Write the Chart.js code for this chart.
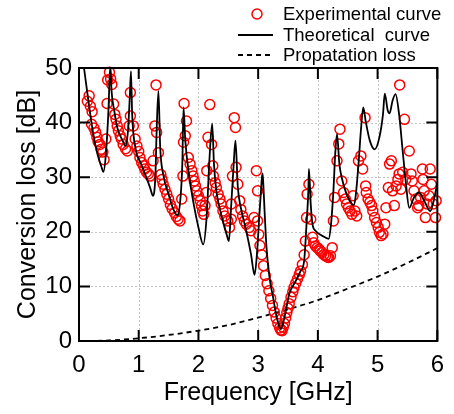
<!DOCTYPE html>
<html>
<head>
<meta charset="utf-8">
<script src="https://cdn.jsdelivr.net/npm/chart.js@4.4.1/dist/chart.umd.min.js"></script>
<style>
  body { margin: 0; background: #fff; }
  #grafico { display: block; }
</style>
</head>
<body>
<canvas id="grafico" width="454" height="414"></canvas>
<script>
// Pontos experimentais (frequência em GHz, perda em dB)
const expFreq = [
    0.14, 0.17, 0.19, 0.21, 0.22, 0.25, 0.28, 0.30, 0.32, 0.35,
    0.37, 0.40, 0.42, 0.45, 0.47, 0.48, 0.51, 0.53, 0.55, 0.58,
    0.60, 0.62, 0.64, 0.66, 0.69, 0.71, 0.74, 0.78, 0.81, 0.84,
    0.86, 0.86, 0.91, 0.94, 0.97, 1.00, 1.02, 1.05, 1.08, 1.10,
    1.13, 1.16, 1.19, 1.24, 1.27, 1.29, 1.30, 1.33, 1.37, 1.39,
    1.41, 1.44, 1.47, 1.50, 1.53, 1.56, 1.60, 1.63, 1.66, 1.69,
    1.72, 1.74, 1.75, 1.76, 1.78, 1.80, 1.83, 1.86, 1.89, 1.91,
    1.93, 1.95, 1.97, 2.00, 2.03, 2.05, 2.07, 2.09, 2.11, 2.13,
    2.14, 2.16, 2.19, 2.22, 2.24, 2.25, 2.28, 2.30, 2.33, 2.36,
    2.38, 2.41, 2.44, 2.49, 2.52, 2.55, 2.55, 2.57, 2.60, 2.62,
    2.63, 2.66, 2.69, 2.71, 2.74, 2.77, 2.80, 2.85, 2.88, 2.93,
    2.97, 2.99, 2.99, 3.01, 3.03, 3.06, 3.09, 3.12, 3.15, 3.18,
    3.21, 3.24, 3.27, 3.30, 3.33, 3.36, 3.38, 3.40, 3.42, 3.44,
    3.46, 3.48, 3.50, 3.52, 3.55, 3.58, 3.60, 3.63, 3.66, 3.69,
    3.71, 3.74, 3.77, 3.79, 3.81, 3.82, 3.85, 3.88, 3.91, 3.93,
    3.96, 3.99, 4.02, 4.04, 4.07, 4.10, 4.13, 4.16, 4.18, 4.21,
    4.24, 4.26, 4.28, 4.32, 4.35, 4.37, 4.40, 4.43, 4.46, 4.48,
    4.51, 4.54, 4.57, 4.59, 4.62, 4.65, 4.68, 4.72, 4.75, 4.79,
    4.80, 4.81, 4.84, 4.87, 4.90, 4.92, 4.95, 4.98, 5.01, 5.03,
    5.06, 5.09, 5.12, 5.14, 5.18, 5.20, 5.23, 5.25, 5.28, 5.31,
    5.34, 5.36, 5.37, 5.39, 5.42, 5.45, 5.47, 5.53, 5.56, 5.58,
    5.61, 5.64, 5.67, 5.69, 5.72, 5.75, 5.76, 5.78, 5.80, 5.83,
    5.86, 5.88, 5.90, 5.93, 5.97, 5.98
];
const expLoss = [
    43.9, 44.9, 43.0, 39.7, 42.0, 39.0, 38.2, 37.3, 36.5, 36.0,
    35.1, 34.6, 33.2, 37.0, 43.5, 47.8, 49.2, 48.0, 47.0, 43.4,
    41.5, 40.6, 39.4, 38.5, 37.6, 37.0, 36.0, 35.2, 34.8, 39.4,
    41.2, 45.5, 39.4, 37.0, 35.7, 34.7, 33.6, 32.7, 32.1, 31.5,
    30.9, 30.6, 30.2, 33.0, 39.4, 46.9, 38.2, 34.5, 30.5, 29.6,
    28.7, 27.8, 26.9, 26.0, 25.0, 24.2, 23.5, 22.8, 22.3, 22.0,
    26.0, 30.2, 36.4, 43.5, 37.6, 40.3, 33.6, 32.4, 31.2, 30.2,
    29.3, 28.4, 27.5, 26.6, 25.7, 24.8, 23.8, 23.2, 24.8, 27.2,
    31.2, 37.3, 43.3, 36.0, 32.1, 30.2, 29.0, 28.1, 26.9, 26.0,
    25.1, 23.8, 22.9, 22.0, 20.8, 22.3, 25.1, 30.2, 40.9, 39.1,
    31.8, 28.7, 25.7, 24.1, 22.9, 22.0, 21.4, 20.8, 20.2, 22.6,
    31.2, 27.5, 22.0, 19.5, 17.5, 15.8, 13.8, 12.0, 10.5, 9.2,
    7.8, 6.5, 5.3, 4.2, 3.2, 2.4, 2.0, 1.9, 2.5, 3.2,
    4.2, 5.2, 6.0, 6.8, 8.0, 9.0, 9.8, 10.6, 11.4, 12.2,
    12.8, 14.0, 15.8, 18.3, 22.6, 26.9, 28.7, 22.3, 19.0, 18.0,
    17.4, 17.1, 16.8, 16.5, 16.2, 15.8, 15.6, 15.4, 15.3, 15.6,
    17.1, 22.0, 26.3, 33.0, 36.1, 38.8, 29.3, 27.2, 26.0, 25.1,
    24.4, 23.8, 23.2, 26.6, 23.8, 22.9, 33.0, 33.9, 31.5, 40.9,
    28.4, 27.2, 26.0, 25.4, 24.8, 23.8, 22.6, 21.7, 20.8, 19.9,
    19.3, 19.6, 21.4, 24.4, 28.1, 32.4, 33.0, 27.5, 24.8, 28.4,
    29.6, 30.6, 46.9, 27.8, 30.9, 40.6, 29.6, 34.8, 30.6, 29.3,
    27.5, 26.0, 24.4, 24.8, 26.3, 31.5, 29.6, 27.5, 22.6, 25.1,
    26.6, 31.5, 28.7, 25.1, 22.6, 25.7
];

// Curva teórica
const theoryFreq = [
    0.07, 0.09, 0.15, 0.23, 0.31, 0.37, 0.41, 0.45, 0.49, 0.525,
    0.545, 0.59, 0.64, 0.73, 0.78, 0.82, 0.85, 0.87, 0.89, 0.95,
    1.03, 1.11, 1.19, 1.24, 1.28, 1.30, 1.33, 1.36, 1.41, 1.50,
    1.57, 1.65, 1.70, 1.73, 1.75, 1.78, 1.84, 1.92, 2.00, 2.08,
    2.14, 2.18, 2.23, 2.26, 2.30, 2.38, 2.47, 2.51, 2.55, 2.59,
    2.62, 2.66, 2.71, 2.80, 2.88, 2.94, 2.98, 3.02, 3.05, 3.07,
    3.08, 3.11, 3.14, 3.19, 3.25, 3.30, 3.36, 3.38, 3.44, 3.52,
    3.63, 3.71, 3.77, 3.81, 3.84, 3.85, 3.88, 3.91, 3.96, 4.07,
    4.18, 4.22, 4.26, 4.29, 4.32, 4.36, 4.40, 4.48, 4.57, 4.60,
    4.63, 4.68, 4.72, 4.76, 4.80, 4.87, 4.95, 5.03, 5.09, 5.12,
    5.17, 5.20, 5.25, 5.30, 5.36, 5.42, 5.47, 5.53, 5.61, 5.69,
    5.78, 5.88, 5.94, 6.00
];
const theoryLoss = [
    51.0, 49.5, 44.6, 38.5, 34.2, 32.1, 31.0, 34.2, 41.5, 50.5,
    45.8, 42.2, 39.1, 36.7, 35.7, 38.5, 44.6, 49.4, 41.5, 35.1,
    32.7, 30.5, 28.1, 26.6, 30.5, 38.5, 45.8, 35.4, 30.5, 26.9,
    24.4, 23.0, 26.3, 32.4, 42.8, 36.7, 30.6, 25.1, 20.8, 17.7,
    23.2, 32.4, 39.8, 32.4, 27.5, 23.2, 19.6, 18.3, 25.1, 32.4,
    36.7, 28.1, 24.4, 20.2, 15.9, 12.1, 16.0, 23.0, 28.0, 30.7,
    29.9, 23.2, 17.1, 11.6, 8.0, 4.9, 2.5, 2.2, 4.3, 8.6,
    11.0, 12.8, 14.7, 21.4, 27.5, 31.5, 25.1, 21.4, 20.2, 19.3,
    18.7, 21.4, 27.5, 34.2, 37.9, 32.4, 29.9, 26.9, 25.1, 24.9,
    26.3, 32.4, 38.5, 42.8, 40.3, 36.7, 35.1, 37.3, 41.5, 45.3,
    42.2, 41.7, 44.0, 45.2, 41.5, 34.8, 29.3, 24.4, 26.3, 27.2,
    25.7, 23.8, 25.7, 29.0
];

// Perda de propagação
const propFreq = [0, 0.5, 1, 1.5, 2, 2.5, 3, 3.5, 4, 4.5, 5, 5.5, 6];
const propLoss = [0, 0.1, 0.5, 1.1, 1.9, 2.9, 4.3, 5.8, 7.5, 9.6, 11.8, 14.3, 17.0];

const xTicks = [0, 1, 2, 3, 4, 5, 6];
const yTicks = [0, 10, 20, 30, 40, 50];

const fonte = '"Liberation Sans", Arial, sans-serif';

function juntar(xs, ys) {
    return xs.map((x, i) => ({ x: x, y: ys[i] }));
}

// grade tracejada desenhada antes dos dados
const gradePlugin = {
    id: 'grade',
    beforeDatasetsDraw(chart) {
        const { ctx, chartArea, scales } = chart;
        ctx.save();
        ctx.strokeStyle = '#c4c4c4';
        ctx.lineWidth = 1;
        ctx.setLineDash([2, 2]);
        xTicks.forEach(v => {
            const px = Math.round(scales.x.getPixelForValue(v)) + 0.5;
            ctx.beginPath();
            ctx.moveTo(px, chartArea.top);
            ctx.lineTo(px, chartArea.bottom);
            ctx.stroke();
        });
        yTicks.forEach(v => {
            const py = Math.round(scales.y.getPixelForValue(v)) + 0.5;
            ctx.beginPath();
            ctx.moveTo(chartArea.left, py);
            ctx.lineTo(chartArea.right, py);
            ctx.stroke();
        });
        ctx.restore();
    }
};

// moldura com marcas para dentro + legenda manual
const molduraPlugin = {
    id: 'moldura',
    afterDraw(chart) {
        const { ctx, chartArea, scales } = chart;
        const { left, right, top, bottom } = chartArea;
        const tam = 11;
        ctx.save();
        ctx.strokeStyle = '#000';
        ctx.lineWidth = 2;
        ctx.setLineDash([]);
        ctx.strokeRect(left, top, right - left, bottom - top);
        ctx.beginPath();
        xTicks.forEach(v => {
            const px = scales.x.getPixelForValue(v);
            ctx.moveTo(px, bottom);
            ctx.lineTo(px, bottom - tam);
            ctx.moveTo(px, top);
            ctx.lineTo(px, top + tam);
        });
        yTicks.forEach(v => {
            const py = scales.y.getPixelForValue(v);
            ctx.moveTo(left, py);
            ctx.lineTo(left + tam, py);
            ctx.moveTo(right, py);
            ctx.lineTo(right - tam, py);
        });
        ctx.stroke();

        // legenda
        ctx.font = '18.5px ' + fonte;
        ctx.fillStyle = '#000';
        ctx.textBaseline = 'middle';
        ctx.textAlign = 'left';

        ctx.strokeStyle = '#ff0000';
        ctx.lineWidth = 1.5;
        ctx.beginPath();
        ctx.arc(257, 14, 5, 0, Math.PI * 2);
        ctx.stroke();
        ctx.fillText('Experimental curve', 283, 15);

        ctx.strokeStyle = '#000';
        ctx.lineWidth = 1.8;
        ctx.beginPath();
        ctx.moveTo(238, 35);
        ctx.lineTo(273, 35);
        ctx.stroke();
        ctx.fillText('Theoretical  curve', 283, 36);

        ctx.setLineDash([5, 4]);
        ctx.beginPath();
        ctx.moveTo(238, 55);
        ctx.lineTo(274, 55);
        ctx.stroke();
        ctx.fillText('Propatation loss', 283, 56);
        ctx.restore();
    }
};

new Chart(document.getElementById('grafico'), {
    type: 'scatter',
    data: {
        datasets: [
            {
                label: 'Theoretical  curve',
                data: juntar(theoryFreq, theoryLoss),
                showLine: true,
                borderColor: '#000',
                borderWidth: 1.8,
                pointRadius: 0,
                cubicInterpolationMode: 'monotone',
                clip: 0,
                order: 1
            },
            {
                label: 'Experimental curve',
                data: juntar(expFreq, expLoss),
                showLine: false,
                pointStyle: 'circle',
                pointRadius: 5,
                pointBorderWidth: 1.5,
                borderColor: '#ff0000',
                backgroundColor: 'rgba(0,0,0,0)',
                clip: 8,
                order: 2
            },
            {
                label: 'Propatation loss',
                data: juntar(propFreq, propLoss),
                showLine: true,
                borderColor: '#000',
                borderWidth: 1.8,
                borderDash: [5, 4],
                pointRadius: 0,
                cubicInterpolationMode: 'monotone',
                clip: 0,
                order: 3
            }
        ]
    },
    options: {
        responsive: false,
        animation: false,
        events: [],
        layout: { padding: { top: 68, right: 11, left: 0, bottom: 0 } },
        plugins: {
            legend: { display: false },
            tooltip: { enabled: false }
        },
        scales: {
            x: {
                type: 'linear',
                min: 0,
                max: 6,
                grid: { display: false, drawTicks: false },
                border: { display: false },
                ticks: {
                    stepSize: 1,
                    color: '#000',
                    padding: 10,
                    maxRotation: 0,
                    font: { family: fonte, size: 24 }
                },
                title: {
                    display: true,
                    text: 'Frequency [GHz]',
                    color: '#000',
                    font: { family: fonte, size: 25 },
                    padding: { top: 0, bottom: 6 }
                },
                afterFit(scale) { scale.height = 73; }
            },
            y: {
                min: 0,
                max: 50,
                grid: { display: false, drawTicks: false },
                border: { display: false },
                ticks: {
                    stepSize: 10,
                    color: '#000',
                    padding: 7,
                    font: { family: fonte, size: 24 }
                },
                title: {
                    display: true,
                    text: 'Conversion loss [dB]',
                    color: '#000',
                    font: { family: fonte, size: 25 },
                    padding: { top: 13, bottom: 0 }
                },
                afterFit(scale) { scale.width = 79; }
            }
        }
    },
    plugins: [gradePlugin, molduraPlugin]
});
</script>
</body>
</html>
